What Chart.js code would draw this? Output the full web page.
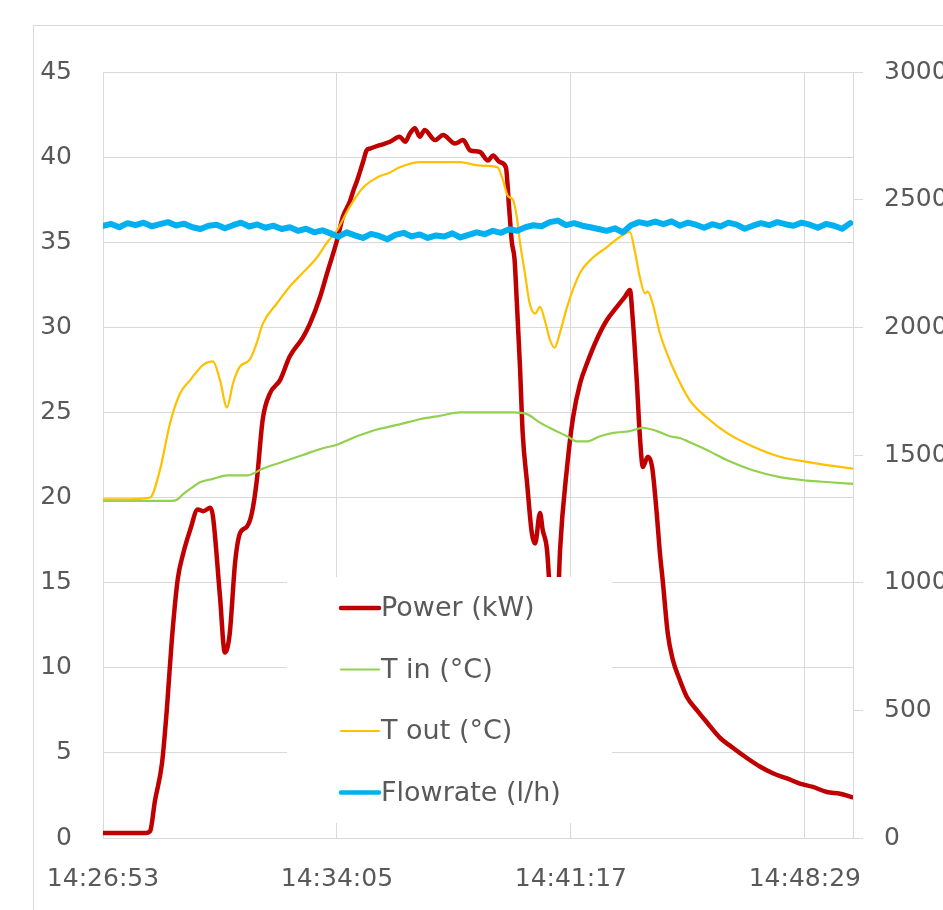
<!DOCTYPE html>
<html>
<head>
<meta charset="utf-8">
<title>Power, temperatures and flowrate</title>
<script src="https://cdn.jsdelivr.net/npm/chart.js@4.4.1/dist/chart.umd.min.js"></script>
<style>
  html, body { margin: 0; padding: 0; background: #fff; }
  #wrap { width: 943px; height: 910px; }
</style>
</head>
<body>
<div id="wrap"><canvas id="chart" width="943" height="910"></canvas></div>
<script>
// x values are seconds after 14:26:53
const xTickSeconds = [0, 432, 864, 1296];
const xTickLabels = ['14:26:53', '14:34:05', '14:41:17', '14:48:29'];
const xMaxSeconds = 1385;

const seriesNames = ['Power (kW)', 'T in (°C)', 'T out (°C)', 'Flowrate (l/h)'];

const powerTime = [0, 40, 80, 87, 96, 109, 118, 127, 138, 148, 161, 175, 185, 198, 203, 216, 225, 234, 244, 253,
  266, 275, 284, 295, 308, 327, 345, 369, 382, 401, 414, 432, 443, 456, 462, 469, 480, 487, 493, 511,
  530, 548, 558, 567, 576, 585, 594, 613, 628, 650, 665, 678, 696, 711, 720, 733, 744, 750, 755, 760,
  764, 770, 775, 783, 792, 798, 807, 812, 820, 829, 836, 844, 857, 868, 881, 894, 912, 930, 949, 964,
  973, 978, 986, 991, 997, 1006, 1014, 1023, 1028, 1034, 1043, 1052, 1065, 1078, 1097, 1115, 1139, 1163, 1189, 1213,
  1237, 1263, 1287, 1311, 1337, 1361, 1383];
const powerKW = [0.3, 0.3, 0.3, 0.4, 2.2, 4.4, 7.6, 11.6, 15.2, 16.7, 18.1, 19.3, 19.2, 19.4, 18.9, 14.2, 10.9, 12.0, 16.2, 17.9,
  18.3, 19.1, 21.0, 24.6, 26.1, 26.9, 28.3, 29.4, 30.2, 31.8, 33.2, 35.1, 36.5, 37.4, 38.0, 38.6, 39.7, 40.4, 40.5, 40.7,
  40.9, 41.2, 40.9, 41.4, 41.7, 41.2, 41.6, 41.0, 41.3, 40.8, 41.0, 40.4, 40.3, 39.8, 40.1, 39.7, 39.4, 37.0, 35.0, 34.0,
  31.6, 27.7, 23.8, 20.9, 17.9, 17.3, 19.1, 18.1, 16.9, 12.5, 10.5, 16.9, 21.8, 24.7, 26.7, 27.9, 29.3, 30.4, 31.2, 31.8,
  32.2, 30.6, 26.7, 23.8, 21.8, 22.4, 21.8, 18.9, 16.9, 15.0, 12.0, 10.5, 9.3, 8.3, 7.5, 6.8, 5.9, 5.3, 4.7, 4.2,
  3.8, 3.5, 3.2, 3.0, 2.7, 2.6, 2.4];

const tinTime = [0, 127, 138, 148, 165, 179, 203, 229, 266, 295, 332, 369, 406, 432, 469, 506, 548, 585, 622, 659,
  696, 733, 757, 783, 807, 831, 857, 875, 894, 918, 942, 973, 997, 1023, 1047, 1065, 1080, 1115, 1152, 1200,
  1250, 1300, 1342, 1385];
const tinC = [19.8, 19.8, 19.9, 20.2, 20.6, 20.9, 21.1, 21.3, 21.3, 21.7, 22.1, 22.5, 22.9, 23.1, 23.6, 24.0, 24.3, 24.6, 24.8, 25.0,
  25.0, 25.0, 25.0, 24.9, 24.4, 24.0, 23.6, 23.3, 23.3, 23.6, 23.8, 23.9, 24.1, 23.9, 23.6, 23.5, 23.3, 22.8, 22.2, 21.6,
  21.2, 21.0, 20.9, 20.8];

const toutTime = [0, 50, 87, 105, 124, 142, 161, 185, 203, 216, 229, 240, 253, 271, 284, 295, 321, 345, 369, 395,
  414, 432, 456, 480, 506, 530, 548, 585, 622, 659, 696, 729, 738, 748, 757, 764, 770, 779, 788, 798,
  807, 816, 825, 834, 844, 857, 881, 905, 930, 954, 973, 982, 991, 1001, 1006, 1015, 1028, 1041, 1060, 1084,
  1115, 1152, 1200, 1250, 1300, 1361, 1385];
const toutC = [19.9, 19.9, 20.0, 21.6, 24.4, 26.1, 26.9, 27.8, 28.0, 26.9, 25.3, 26.7, 27.7, 28.1, 29.1, 30.2, 31.4, 32.4, 33.2, 34.1,
  35.0, 35.7, 37.1, 38.2, 38.8, 39.1, 39.4, 39.7, 39.7, 39.7, 39.5, 39.4, 38.7, 37.7, 37.5, 36.5, 35.0, 33.2, 31.4, 30.8,
  31.2, 30.4, 29.3, 28.8, 29.7, 31.2, 33.2, 34.1, 34.7, 35.3, 35.6, 34.5, 33.0, 32.0, 32.1, 31.4, 29.7, 28.5, 27.1, 25.7,
  24.7, 23.8, 23.0, 22.4, 22.1, 21.8, 21.7];

const flowTime = [0, 15, 30, 45, 60, 75, 90, 105, 120, 135, 150, 165, 180, 195, 210, 225, 240, 255, 270, 285,
  300, 315, 330, 345, 360, 375, 390, 405, 420, 435, 450, 465, 480, 495, 510, 525, 540, 555, 570, 585,
  600, 615, 630, 645, 660, 675, 690, 705, 720, 735, 750, 765, 780, 795, 810, 825, 840, 855, 870, 885,
  900, 915, 930, 945, 960, 975, 990, 1005, 1020, 1035, 1050, 1065, 1080, 1095, 1110, 1125, 1140, 1155, 1170, 1185,
  1200, 1215, 1230, 1245, 1260, 1275, 1290, 1305, 1320, 1335, 1350, 1365, 1380];
const flowLH = [2398, 2405, 2392, 2408, 2400, 2410, 2396, 2404, 2412, 2399, 2406, 2392, 2385, 2398, 2402, 2388, 2400, 2410, 2395, 2403,
  2390, 2398, 2385, 2392, 2378, 2386, 2372, 2380, 2368, 2355, 2372, 2360, 2350, 2366, 2358, 2345, 2362, 2370, 2356, 2364,
  2350, 2360, 2356, 2368, 2352, 2362, 2372, 2365, 2378, 2370, 2384, 2378, 2392, 2400, 2396, 2412, 2418, 2400, 2408, 2398,
  2392, 2385, 2378, 2388, 2372, 2400, 2412, 2405, 2414, 2404, 2415, 2398, 2410, 2402, 2390, 2404, 2395, 2410, 2402, 2386,
  2398, 2408, 2400, 2412, 2404, 2398, 2410, 2402, 2390, 2405, 2398, 2386, 2408];

const textColor = '#595959';
const gridColor = '#D9D9D9';
const fontFamily = "'DejaVu Sans', sans-serif";

function toPoints(times, values) {
  return times.map((t, i) => ({ x: t, y: values[i] }));
}

// thin frame around the whole chart, like the spreadsheet chart border
const framePlugin = {
  id: 'frame',
  beforeDraw(chart) {
    const ctx = chart.ctx;
    ctx.save();
    ctx.fillStyle = '#fff';
    ctx.fillRect(0, 0, chart.width, chart.height);
    ctx.strokeStyle = gridColor;
    ctx.lineWidth = 1;
    ctx.strokeRect(33.5, 25.5, 1200, 1200);
    ctx.restore();
  }
};

// legend sits inside the plot on a white box that hides what is under it
const boxLegend = {
  id: 'boxLegend',
  afterDatasetsDraw(chart) {
    const ctx = chart.ctx;
    ctx.save();
    ctx.fillStyle = '#fff';
    ctx.fillRect(287, 577, 325, 246);
    ctx.font = '27px ' + fontFamily;
    ctx.textBaseline = 'middle';
    ctx.textAlign = 'left';
    chart.data.datasets.forEach((ds, i) => {
      const y = 608 + i * 61.5;
      ctx.strokeStyle = ds.borderColor;
      ctx.lineWidth = ds.legendWidth;
      ctx.lineCap = 'round';
      ctx.beginPath();
      ctx.moveTo(341, y);
      ctx.lineTo(379, y);
      ctx.stroke();
      ctx.fillStyle = textColor;
      ctx.fillText(ds.label, 381, y + 1);
    });
    ctx.restore();
  }
};

const chart = new Chart(document.getElementById('chart'), {
  type: 'line',
  data: {
    datasets: [
      { label: seriesNames[0], data: toPoints(powerTime, powerKW), yAxisID: 'y',
        borderColor: '#C00000', borderWidth: 4.5, legendWidth: 4.5, order: 4 },
      { label: seriesNames[1], data: toPoints(tinTime, tinC), yAxisID: 'y',
        borderColor: '#92D050', borderWidth: 2.2, legendWidth: 2.2, order: 3 },
      { label: seriesNames[2], data: toPoints(toutTime, toutC), yAxisID: 'y',
        borderColor: '#FFC000', borderWidth: 2.2, legendWidth: 2.2, order: 2 },
      { label: seriesNames[3], data: toPoints(flowTime, flowLH), yAxisID: 'y2',
        borderColor: '#00B0F0', borderWidth: 6, legendWidth: 4.5, order: 1,
        cubicInterpolationMode: 'default', tension: 0 }
    ]
  },
  options: {
    responsive: false,
    animation: false,
    devicePixelRatio: 1,
    layout: { padding: { top: 72, left: 0, right: 0, bottom: 0 } },
    elements: {
      point: { radius: 0, hoverRadius: 0 },
      line: { cubicInterpolationMode: 'monotone', borderJoinStyle: 'round', borderCapStyle: 'round' }
    },
    plugins: {
      legend: { display: false },
      tooltip: { enabled: false }
    },
    scales: {
      x: {
        type: 'linear',
        min: 0,
        max: xMaxSeconds,
        afterBuildTicks: (s) => { s.ticks = xTickSeconds.map(v => ({ value: v })); },
        afterFit: (s) => { s.height = 72; },
        ticks: {
          callback: (v, i) => xTickLabels[i],
          color: textColor,
          font: { family: fontFamily, size: 25 },
          padding: 26,
          maxRotation: 0,
          autoSkip: false
        },
        grid: { color: gridColor, drawTicks: false },
        border: { color: gridColor }
      },
      y: {
        position: 'left',
        min: 0,
        max: 45,
        afterFit: (s) => { s.width = 103; },
        ticks: { stepSize: 5, color: textColor, font: { family: fontFamily, size: 25 }, padding: 31 },
        grid: { color: gridColor, drawTicks: false },
        border: { color: gridColor }
      },
      y2: {
        position: 'right',
        min: 0,
        max: 3000,
        afterFit: (s) => { s.width = 90; },
        ticks: {
          stepSize: 500,
          callback: (v) => String(v),
          color: textColor,
          font: { family: fontFamily, size: 25 },
          padding: 21
        },
        grid: { drawOnChartArea: false, drawTicks: true, tickLength: 10, color: gridColor },
        border: { color: gridColor }
      }
    }
  },
  plugins: [framePlugin, boxLegend]
});
</script>
</body>
</html>
